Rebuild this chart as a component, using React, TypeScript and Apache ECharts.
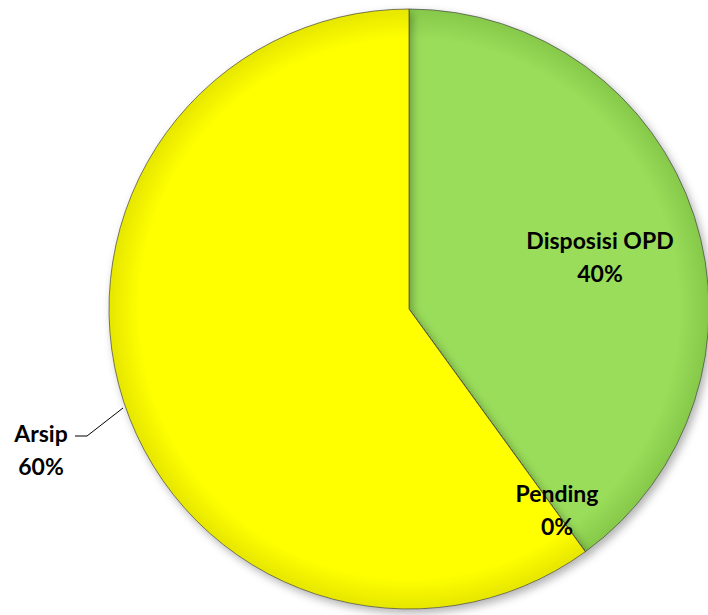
import React, { useEffect, useRef } from "react";
import * as echarts from "echarts";

const categories = ["Disposisi OPD", "Pending", "Arsip"];
const values = [40, 0, 60];
const percentLabels = ["40%", "0%", "60%"];
const colors = ["#9ADD5A", "#9ADD5A", "#FFFF00"];
const edgeColors = ["#86C94A", "#86C94A", "#E6E600"];

const CX = 409;
const CY = 309;
const R = 300;

export default function App() {
  const ref = useRef<HTMLDivElement>(null);
  useEffect(() => {
    document.body.style.margin = "0";
    const chart = echarts.init(ref.current!, null, { renderer: "svg" });
    const labelPos: Record<number, { x: number; y: number }> = {
      0: { x: 600, y: 256 },
      1: { x: 557, y: 509 },
      2: { x: 41, y: 449 },
    };
    const textStyle = {
      fontFamily: "Lato",
      fontWeight: "bold",
      fontSize: 23,
      lineHeight: 33,
      color: "#000",
    };
    chart.setOption({
      animation: false,
      backgroundColor: "#ffffff",
      series: [
        {
          type: "pie",
          center: [CX, CY],
          radius: [0, R],
          startAngle: 90,
          clockwise: true,
          stillShowZeroSum: true,
          minAngle: 0,
          avoidLabelOverlap: false,
          itemStyle: {
            borderColor: "rgba(70,70,70,0.7)",
            borderWidth: 1,
            shadowBlur: 8,
            shadowOffsetX: 3,
            shadowOffsetY: 4,
            shadowColor: "rgba(0,0,0,0.3)",
          },
          label: textStyle,
          labelLayout: (params: any) => {
            const p = labelPos[params.dataIndex];
            const out: any = { x: p.x, y: p.y, align: "center", verticalAlign: "middle" };
            if (params.dataIndex === 2) {
              out.labelLinePoints = [
                [123, 408],
                [87, 436],
                [75, 436],
              ];
            }
            return out;
          },
          data: categories.map((name, i) => ({
            name,
            value: values[i],
            itemStyle: {
              color: {
                type: "radial",
                x: CX,
                y: CY,
                r: R,
                global: true,
                colorStops: [
                  { offset: 0, color: colors[i] },
                  { offset: 0.9, color: colors[i] },
                  { offset: 1, color: edgeColors[i] },
                ],
              },
            },
            label: {
              position: i === 2 ? "outside" : "inside",
              formatter: name + "\n" + percentLabels[i],
            },
            labelLine:
              i === 2
                ? { show: true, length: 40, length2: 12, lineStyle: { color: "#000", width: 1 } }
                : { show: false },
          })),
        },
      ],
    });
    return () => chart.dispose();
  }, []);
  return (
    <div
      ref={ref}
      style={{ position: "fixed", left: 0, top: 0, width: 708, height: 615 }}
    />
  );
}
